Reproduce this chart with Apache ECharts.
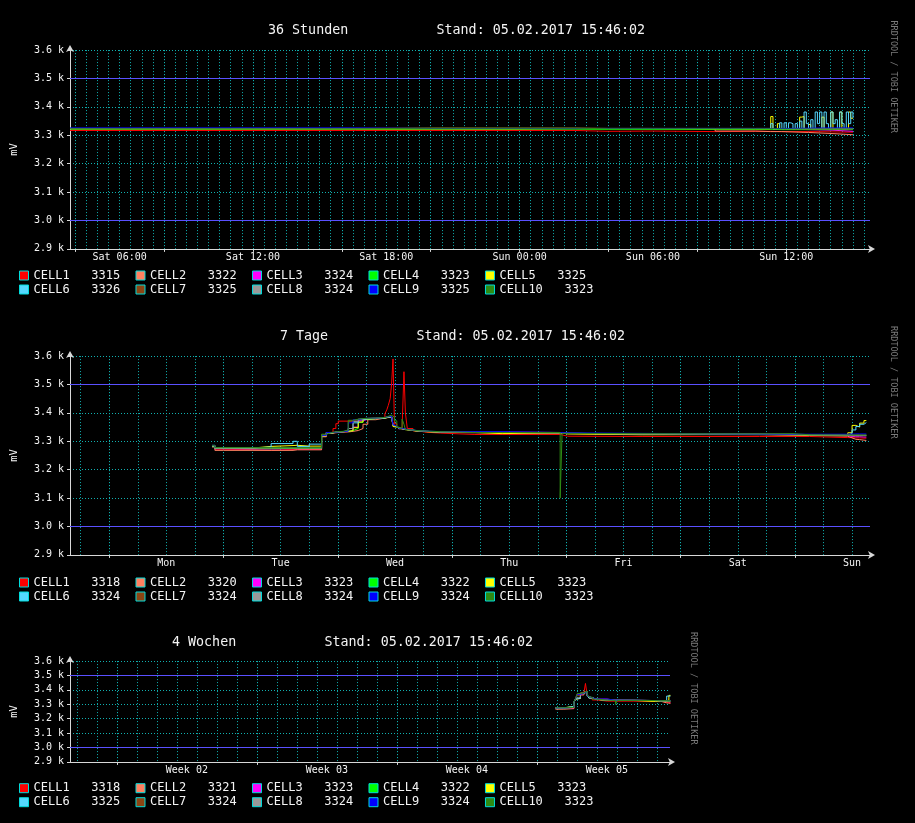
<!DOCTYPE html>
<html>
<head>
<meta charset="utf-8">
<script src="https://cdn.jsdelivr.net/npm/echarts@6.0.0/dist/echarts.min.js"></script>
<style>
html,body{margin:0;padding:0;background:#000;}
#c{width:915px;height:823px;}
</style>
</head>
<body>
<div id="c"></div>
<script>
// ---------------- names / colours ----------------
const names = ['CELL1','CELL2','CELL3','CELL4','CELL5','CELL6','CELL7','CELL8','CELL9','CELL10'];
const colors = ['#ff0000','#ff8060','#ff00ff','#00ff00','#ffff00','#55d8ff','#8b4513','#999999','#0000ff','#2e8b14'];
const hrules = [3000, 3500];
const yGridVals = [2900, 3100, 3200, 3300, 3400, 3600];

// ---------------- 36 Stunden (hours since Sat 04.02. 00:00) ----------------
const T36 = [3.77, 8, 12, 16.6, 20, 24, 26.5, 28, 30, 32.8, 34.6, 35.3, 35.8, 37.0, 38.1, 39.0];
const c36_1 = [3317,3317,3317,3317,3317,3317,3314,3315,3313,3314,3314,3313,3313,3312,3311,3311];
const c36_2 = [3323,3323,3323,3323,3323,3323,3323,3323,3323,3315,3313,3313,3310,3306,3302,3302];
const c36_3 = [3324,3324,3324,3324,3324,3324,3324,3324,3324,3324,3324,3322,3320,3318,3314,3314];
const c36_4 = [3322,3322,3322,3322,3322,3322,3321,3321,3321,3321,3321,3320,3320,3320,3320,3320];
const c36_7 = [3324,3324,3324,3326,3326,3326,3324,3324,3324,3324,3324,3324,3323,3323,3323,3323];
const c36_8 = [3324,3324,3324,3324,3324,3324,3324,3324,3324,3324,3324,3324,3323,3323,3323,3323];
const c36_9 = [3326,3326,3326,3324,3324,3324,3324,3324,3324,3324,3324,3324,3325,3326,3326,3326];
const c36_10 = [3323,3323,3323,3325,3325,3325,3323,3323,3323,3323,3323,3322,3322,3322,3322,3322];
// CELL5 / CELL6: coarse part (first 11 times of T36) + fine noisy part
const c36_5 = [3323,3323,3323,3323,3323,3324,3324,3324,3323,3323,3323];
const c36_6 = [3324,3324,3324,3324,3324,3324,3324,3324,3324,3324,3324];
const T36N = [35.3,35.4,35.5,35.6,35.7,35.8,35.9,36.0,36.1,36.2,36.3,36.4,36.5,36.6,36.7,36.8,36.9,37.0,37.1,37.2,
              37.3,37.4,37.5,37.6,37.7,37.8,37.9,38.0,38.1,38.2,38.3,38.4,38.5,38.6,38.7,38.8,38.9,39.0];
const c36_5n = [3366,3323,3323,3341,3323,3323,3323,3323,3323,3323,3323,3323,3323,3364,3366,3323,3323,3338,3323,3323,
                3323,3323,3323,3364,3323,3323,3323,3382,3323,3323,3323,3382,3323,3323,3323,3382,3360,3360];
const c36_6n = [3341,3323,3323,3323,3344,3323,3344,3323,3344,3341,3323,3341,3323,3350,3323,3382,3341,3323,3355,3323,
                3382,3341,3382,3323,3382,3341,3323,3382,3341,3355,3323,3382,3341,3323,3382,3341,3382,3360];
const avg36 = [3315,3322,3324,3323,3325,3326,3325,3324,3325,3323];
const lab36Pos = [6, 12, 18, 24, 30, 36];
const lab36Txt = ['Sat 06:00','Sat 12:00','Sat 18:00','Sun 00:00','Sun 06:00','Sun 12:00'];
const maj36 = [4, 8, 12, 16, 20, 24, 28, 32, 36];

// ---------------- 7 Tage (hours since Mon 30.01. 00:00) ----------------
const T7 = [21.6,22.2,24,30,34,38.6,39.5,42,44.6,45.6,47.0,47.6,48.1,49.1,50.2,51.2,52.3,53.3,54.3,56,
            57.9,58.3,58.6,59.0,59.3,59.6,59.9,60.4,60.8,61.5,61.9,62.2,62.6,63.8,64.6,66.6,69.5,76.8,82.5,94.7,
            95.1,96.3,111.9,136.6,143.6,147.1,155.1,156.0,156.8,157.6,158.5,159.0];
const c7_1 = [3282,3272,3271,3268,3271,3271,3271,3271,3318,3330,3345,3362,3371,3371,3373,3376,3378,3379,3380,3382,
              3397,3411,3426,3450,3502,3590,3362,3350,3344,3344,3545,3400,3345,3337,3332,3329,3324,3324,3324,3320,
              3318,3317,3317,3317,3317,3313,3313,3312,3312,3311,3311,3311];
const c7_2 = [3280,3268,3268,3268,3268,3270,3270,3270,3316,3328,3330,3331,3332,3333,3335,3338,3345,3360,3376,3382,
              3384,3385,3386,3386,3385,3355,3352,3347,3344,3343,3342,3340,3338,3336,3334,3332,3330,3330,3329,3328,
              3327,3325,3323,3322,3321,3318,3312,3307,3306,3304,3303,3303];
const c7_3 = [3283,3274,3273,3273,3274,3274,3274,3274,3320,3330,3332,3333,3334,3335,3338,3350,3372,3378,3380,3383,
              3385,3386,3387,3387,3386,3358,3354,3348,3345,3344,3342,3340,3339,3337,3335,3333,3332,3333,3331,3331,
              3328,3326,3324,3323,3323,3320,3317,3316,3316,3315,3315,3315];
const c7_4 = [3283,3275,3274,3274,3275,3275,3275,3275,3320,3330,3332,3333,3334,3335,3338,3345,3366,3377,3380,3383,
              3385,3386,3387,3387,3386,3356,3352,3348,3345,3344,3342,3340,3339,3337,3335,3333,3331,3331,3330,3330,
              3328,3326,3324,3323,3322,3321,3320,3320,3320,3320,3320,3320];
const c7_5 = [3284,3276,3276,3282,3285,3286,3283,3283,3319,3330,3332,3333,3334,3335,3337,3348,3368,3378,3380,3381,
              3383,3384,3385,3385,3384,3352,3350,3346,3344,3343,3341,3339,3338,3336,3334,3332,3331,3327,3330,3330,
              3326,3323,3324,3323,3322,3321,3330,3356,3350,3364,3373,3373];
const c7_6 = [3284,3276,3276,3280,3292,3300,3282,3290,3320,3330,3332,3333,3334,3336,3345,3365,3376,3379,3380,3382,
              3384,3385,3386,3386,3385,3357,3353,3348,3345,3344,3342,3340,3339,3337,3335,3333,3332,3331,3330,3330,
              3328,3326,3325,3324,3323,3322,3327,3340,3352,3360,3366,3366];
const c7_7 = [3285,3277,3277,3277,3277,3277,3277,3277,3322,3331,3332,3333,3334,3337,3370,3376,3380,3381,3382,3384,
              3385,3387,3388,3388,3387,3358,3354,3349,3346,3344,3342,3340,3339,3337,3335,3333,3332,3331,3330,3330,
              3328,3326,3325,3324,3323,3322,3322,3322,3322,3322,3322,3322];
const c7_8 = [3285,3277,3277,3277,3277,3277,3277,3277,3321,3331,3332,3333,3334,3336,3345,3370,3378,3380,3381,3383,
              3385,3386,3387,3387,3386,3357,3353,3348,3345,3344,3342,3340,3339,3337,3335,3333,3332,3331,3330,3330,
              3328,3326,3325,3324,3323,3322,3322,3321,3321,3321,3321,3321];
const c7_9 = [3286,3278,3278,3278,3278,3278,3278,3278,3321,3331,3332,3333,3334,3336,3365,3376,3380,3381,3382,3384,
              3385,3387,3388,3388,3387,3358,3354,3349,3346,3345,3343,3341,3340,3338,3336,3334,3334,3334,3331,3331,
              3330,3328,3325,3325,3325,3325,3325,3326,3326,3326,3326,3326];
const c7_10 = [3286,3278,3278,3278,3278,3278,3278,3278,3325,3332,3333,3334,3335,3340,3374,3378,3380,3381,3382,3384,
               3386,3388,3392,3392,3390,3385,3372,3350,3346,3378,3360,3341,3340,3338,3336,3334,3331,3331,3331,3100,
               3328,3327,3326,3327,3323,3322,3322,3322,3322,3322,3322,3322];
const avg7 = [3318,3320,3323,3322,3323,3324,3324,3324,3324,3323];
const lab7Pos = [12, 36, 60, 84, 108, 132, 156];
const lab7Txt = ['Mon','Tue','Wed','Thu','Fri','Sat','Sun'];
const maj7 = [0, 24, 48, 72, 96, 120, 144];

// ---------------- 4 Wochen (days since Mon 30.01. 00:00) ----------------
const T28 = [0.93,1.35,1.85,1.93,2.02,2.18,2.35,2.43,2.52,2.6,2.77,3.02,3.52,3.93,4.02,4.85,5.93,6.2,6.49,6.6,6.68];
const c28_1 = [3272,3272,3310,3340,3369,3376,3387,3445,3359,3345,3330,3322,3322,3322,3322,3322,3320,3313,3313,3313,3313];
const c28_2 = [3266,3270,3310,3336,3340,3365,3385,3385,3356,3343,3334,3330,3328,3326,3326,3324,3322,3310,3308,3306,3306];
const c28_3 = [3274,3276,3312,3336,3369,3376,3387,3387,3358,3344,3336,3336,3328,3327,3327,3326,3324,3320,3318,3316,3316];
const c28_4 = [3274,3278,3313,3336,3345,3376,3388,3388,3358,3345,3334,3328,3327,3327,3327,3325,3323,3321,3320,3320,3320];
const c28_5 = [3276,3285,3313,3336,3342,3376,3388,3388,3362,3345,3334,3328,3327,3327,3327,3320,3323,3322,3330,3362,3362];
const c28_6 = [3275,3285,3313,3336,3342,3376,3387,3387,3358,3344,3334,3329,3328,3328,3328,3326,3325,3325,3357,3357,3357];
const c28_7 = [3275,3278,3313,3338,3360,3378,3388,3388,3358,3345,3334,3329,3328,3328,3328,3326,3325,3325,3324,3324,3324];
const c28_8 = [3275,3278,3313,3337,3350,3376,3387,3387,3358,3345,3334,3329,3328,3328,3328,3326,3325,3325,3324,3324,3324];
const c28_9 = [3275,3278,3313,3338,3369,3378,3388,3388,3358,3345,3336,3336,3329,3328,3328,3326,3325,3325,3326,3326,3326];
const c28_10 = [3276,3278,3315,3340,3375,3380,3392,3392,3370,3350,3336,3329,3327,3299,3327,3326,3325,3326,3325,3325,3325];
const avg28 = [3318,3321,3323,3322,3323,3325,3324,3324,3324,3323];
const lab28Pos = [-17.5, -10.5, -3.5, 3.5];
const lab28Txt = ['Week 02','Week 03','Week 04','Week 05'];
const maj28 = [-21, -14, -7, 0];

// ---------------- helpers ----------------
function pairs(t, v) { return t.map((x, i) => [x, v[i]]); }
function range(a, b, s) { const r = []; for (let x = a; x <= b + 1e-9; x += s) r.push(+x.toFixed(3)); return r; }

const FONT = 'DejaVu Sans Mono';
const GRID_C = '#10b0b0';
const AXIS_C = '#d8d8d8';
const HRULE_C = '#5a50ff';
const TXT_C = '#f4f4f4';

const panels = [
  {
    grid: {left: 70, top: 50.1, width: 800, height: 198.8},
    xmin: 3.7667, xmax: 39.7667, hruleAsBand: false,
    minor: range(4, 39.5, 0.5), major: maj36, labPos: lab36Pos, labTxt: lab36Txt,
    title: '36 Stunden' + ' '.repeat(11) + 'Stand: 05.02.2017 15:46:02', titleLeft: 268, titleMid: 31.2,
    legendMid: [275.5, 289.5], wm: [893, 76.7], avg: avg36,
    data: [pairs(T36, c36_1), pairs(T36, c36_2), pairs(T36, c36_3), pairs(T36, c36_4),
           pairs(T36.slice(0, 11), c36_5).concat(pairs(T36N, c36_5n)),
           pairs(T36.slice(0, 11), c36_6).concat(pairs(T36N, c36_6n)),
           pairs(T36, c36_7), pairs(T36, c36_8), pairs(T36, c36_9), pairs(T36, c36_10)]
  },
  {
    grid: {left: 70, top: 356.1, width: 800, height: 198.8},
    xmin: -8.2333, xmax: 159.7667, hruleAsBand: false,
    minor: range(-6, 156, 6), major: maj7, labPos: lab7Pos, labTxt: lab7Txt,
    title: '7 Tage' + ' '.repeat(11) + 'Stand: 05.02.2017 15:46:02', titleLeft: 280, titleMid: 337.2,
    legendMid: [582.5, 596.5], wm: [893, 382.3], avg: avg7,
    data: [c7_1, c7_2, c7_3, c7_4, c7_5, c7_6, c7_7, c7_8, c7_9, c7_10].map(v => pairs(T7, v))
  },
  {
    grid: {left: 70, top: 661.1, width: 600, height: 100.8},
    xmin: -23.3431, xmax: 6.6569, hruleAsBand: true,
    minor: range(-23, 6, 1), major: maj28, labPos: lab28Pos, labTxt: lab28Txt,
    title: '4 Wochen' + ' '.repeat(11) + 'Stand: 05.02.2017 15:46:02', titleLeft: 172, titleMid: 643.5,
    legendMid: [788.2, 802.2], wm: [693, 688.3], avg: avg28,
    data: [c28_1, c28_2, c28_3, c28_4, c28_5, c28_6, c28_7, c28_8, c28_9, c28_10].map(v => pairs(T28, v))
  }
];

const option = {
  backgroundColor: '#000',
  animation: false,
  title: [], grid: [], xAxis: [], yAxis: [], legend: [], series: [], graphic: []
};

panels.forEach((p, gi) => {
  option.grid.push(Object.assign({}, p.grid));
  option.title.push({
    text: p.title, left: p.titleLeft, top: p.titleMid - 7, padding: 0,
    textStyle: {color: TXT_C, fontFamily: FONT, fontSize: 13.33, fontWeight: 'normal'}
  });
  const lp = p.labPos, lt = p.labTxt;
  // main x axis: major grid, ticks, labels
  option.xAxis.push({
    type: 'value', gridIndex: gi, min: p.xmin, max: p.xmax, position: 'bottom',
    axisLine: {show: true, onZero: false, lineStyle: {color: AXIS_C, width: 1},
               symbol: ['none', 'arrow'], symbolSize: [6, 7], symbolOffset: [0, 5]},
    axisTick: {show: true, length: 3, customValues: p.major, lineStyle: {color: AXIS_C}},
    axisLabel: {show: true, customValues: lp, margin: 4, color: TXT_C, fontFamily: FONT, fontSize: 10,
                formatter: v => { const i = lp.findIndex(q => Math.abs(q - v) < 1e-6); return i >= 0 ? lt[i] : ''; }},
    splitLine: {show: true, lineStyle: {color: GRID_C, width: 1, type: [1, 2]}}
  });
  // minor grid x axis
  option.xAxis.push({
    type: 'value', gridIndex: gi, min: p.xmin, max: p.xmax, position: 'bottom',
    axisLine: {show: false, onZero: false},
    axisTick: {show: false, customValues: p.minor},
    axisLabel: {show: false},
    splitLine: {show: true, lineStyle: {color: GRID_C, width: 1, type: [1, 2]}}
  });
  // main y axis: labels at every 100, dotted grid except where HRULEs are
  option.yAxis.push({
    type: 'value', gridIndex: gi, min: 2900, max: 3600, interval: 100, position: 'left',
    name: 'mV', nameLocation: 'middle', nameRotate: 90, nameGap: 50,
    nameTextStyle: {color: TXT_C, fontFamily: FONT, fontSize: 10.5},
    axisLine: {show: true, onZero: false, lineStyle: {color: AXIS_C, width: 1},
               symbol: ['none', 'arrow'], symbolSize: [6, 7], symbolOffset: [0, 5]},
    axisTick: {show: true, length: 3, customValues: yGridVals, lineStyle: {color: AXIS_C}},
    axisLabel: {margin: 6, color: TXT_C, fontFamily: FONT, fontSize: 10,
                formatter: v => (v / 1000).toFixed(1) + ' k'},
    splitLine: {show: true, lineStyle: {color: GRID_C, width: 1, type: [1, 2]}}
  });
  // helper y axis: ticks at the HRULE values only
  option.yAxis.push({
    type: 'value', gridIndex: gi, min: 2900, max: 3600, interval: 100, position: 'left',
    axisLine: {show: false, onZero: false},
    axisTick: {show: true, length: 3, customValues: hrules, lineStyle: {color: AXIS_C}},
    axisLabel: {show: false},
    splitLine: {show: false}
  });
  [0, 1].forEach(r => {
    option.legend.push({
      left: 19, top: p.legendMid[r] - 6, padding: 0, orient: 'horizontal',
      itemWidth: 9, itemHeight: 9, itemGap: 15.3, icon: 'rect', selectedMode: false,
      itemStyle: {borderColor: '#00dcdc', borderWidth: 1},
      textStyle: {color: TXT_C, fontFamily: FONT, fontSize: 12},
      data: names.slice(r * 5, r * 5 + 5),
      formatter: (name) => name + '   ' + p.avg[names.indexOf(name)]
    });
  });
  // HRULE lines (3.0 k / 3.5 k) across the whole time range
  if (p.hruleAsBand) {
    // one-pixel filled band centred on each HRULE value
    const halfPx = 0.5 * 700 / p.grid.height;
    option.series.push({
      type: 'line', name: 'HRULE', xAxisIndex: gi * 2, yAxisIndex: gi * 2, z: 10,
      data: [[p.xmin, hrules[0]], [p.xmax, hrules[0]]], symbol: 'none', showSymbol: false,
      lineStyle: {opacity: 0}, emphasis: {disabled: true}, silent: true,
      markArea: {silent: true, label: {show: false}, itemStyle: {color: HRULE_C, opacity: 1, borderWidth: 0},
                 data: hrules.map(h => [{yAxis: h - halfPx}, {yAxis: h + halfPx}])}
    });
  } else {
    hrules.forEach(h => {
      option.series.push({
        type: 'line', name: 'HRULE', xAxisIndex: gi * 2, yAxisIndex: gi * 2, z: 1,
        data: [[p.xmin, h], [p.xmax, h]], symbol: 'none', showSymbol: false,
        lineStyle: {color: HRULE_C, width: 1}, emphasis: {disabled: true}, silent: true
      });
    });
  }
  p.data.forEach((d, ci) => {
    option.series.push({
      type: 'line', name: names[ci], xAxisIndex: gi * 2, yAxisIndex: gi * 2, z: 3,
      data: d, step: 'end', symbol: 'none', showSymbol: false,
      lineStyle: {color: colors[ci], width: 1}, itemStyle: {color: colors[ci]},
      emphasis: {disabled: true}, silent: true
    });
  });
  option.graphic.push({
    type: 'text', x: p.wm[0], y: p.wm[1], rotation: -Math.PI / 2, silent: true,
    style: {text: 'RRDTOOL / TOBI OETIKER', fill: '#7a7a7a', font: '8.5px "DejaVu Sans Mono"',
            align: 'center', verticalAlign: 'middle'}
  });
});

const chart = echarts.init(document.getElementById('c'), null, {renderer: 'canvas'});
chart.setOption(option);
</script>
</body>
</html>
